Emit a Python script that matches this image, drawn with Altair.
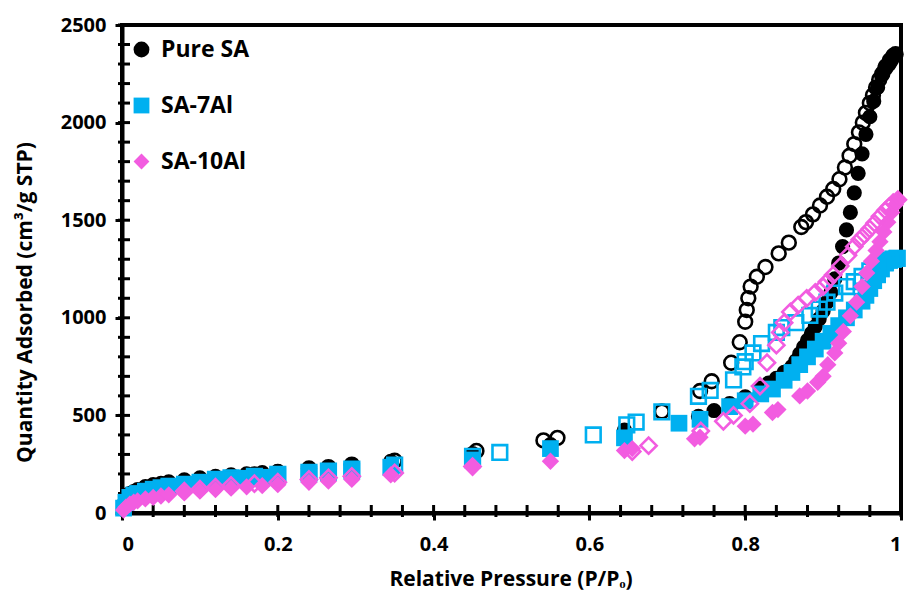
import altair as alt
import pandas as pd

# ---------------- data ----------------
series_names = ["Pure SA", "SA-7Al", "SA-10Al"]
series_colors = ["#000000", "#00B0F0", "#F25CE0"]
series_shapes = ["circle", "square", "diamond"]

# Pure SA – adsorption (filled) / desorption (open)
sa_ads_p = [0.002, 0.005, 0.01, 0.015, 0.02, 0.03, 0.04, 0.05, 0.06, 0.08,
            0.10, 0.12, 0.14, 0.16, 0.18, 0.20, 0.24, 0.265, 0.295, 0.345,
            0.45, 0.55, 0.645, 0.74, 0.76, 0.78, 0.80, 0.82, 0.83, 0.84,
            0.85, 0.86, 0.865, 0.87, 0.875, 0.88, 0.885, 0.89, 0.895, 0.90,
            0.905, 0.91, 0.915, 0.92, 0.925, 0.93, 0.935, 0.94, 0.945, 0.95,
            0.955, 0.96, 0.965, 0.97, 0.975, 0.98, 0.985, 0.99, 0.993]
sa_ads_q = [45, 75, 100, 110, 120, 135, 145, 152, 160, 170,
            180, 188, 195, 200, 207, 212, 225, 232, 245, 265,
            305, 350, 425, 495, 525, 560, 595, 640, 665, 690,
            720, 750, 780, 815, 850, 885, 920, 955, 995, 1035,
            1080, 1130, 1200, 1280, 1365, 1450, 1540, 1640, 1740, 1840,
            1940, 2030, 2110, 2180, 2240, 2290, 2320, 2345, 2350]
sa_des_p = [0.993, 0.99, 0.987, 0.984, 0.98, 0.976, 0.972, 0.968, 0.964, 0.96,
            0.955, 0.951, 0.946, 0.94, 0.934, 0.928, 0.921, 0.913, 0.905, 0.896,
            0.887, 0.878, 0.872, 0.856, 0.843, 0.826, 0.815, 0.807, 0.804, 0.802,
            0.80, 0.793, 0.782, 0.757, 0.742, 0.693, 0.559, 0.541, 0.455, 0.35,
            0.295, 0.265, 0.24, 0.20, 0.17, 0.14, 0.12, 0.10, 0.08]
sa_des_q = [2350, 2340, 2320, 2300, 2280, 2250, 2220, 2180, 2140, 2100,
            2050, 2000, 1950, 1890, 1830, 1770, 1710, 1660, 1620, 1575,
            1530, 1490, 1465, 1385, 1330, 1260, 1210, 1160, 1100, 1040,
            980, 875, 770, 675, 625, 520, 385, 372, 318, 268,
            248, 235, 228, 210, 198, 185, 175, 165, 155]

# SA-7Al
al7_ads_p = [0.002, 0.005, 0.01, 0.015, 0.02, 0.03, 0.04, 0.05, 0.06, 0.08,
             0.10, 0.12, 0.14, 0.16, 0.18, 0.20, 0.24, 0.265, 0.295, 0.345,
             0.45, 0.55, 0.645, 0.715, 0.742, 0.78, 0.80, 0.82, 0.835, 0.85,
             0.86, 0.87, 0.88, 0.89, 0.90, 0.91, 0.92, 0.93, 0.94, 0.95,
             0.955, 0.96, 0.965, 0.97, 0.975, 0.98, 0.985, 0.99, 0.995]
al7_ads_q = [25, 55, 80, 92, 100, 112, 122, 130, 138, 148,
             158, 165, 172, 178, 183, 190, 200, 207, 215, 235,
             272, 330, 385, 460, 480, 545, 575, 610, 635, 680,
             720, 760, 800, 840, 880, 920, 960, 1000, 1040, 1085,
             1115, 1150, 1190, 1220, 1250, 1280, 1295, 1300, 1305]
al7_des_p = [0.995, 0.99, 0.985, 0.98, 0.97, 0.96, 0.95, 0.94, 0.93, 0.915,
             0.905, 0.895, 0.883, 0.865, 0.847, 0.84, 0.821, 0.81, 0.80, 0.797,
             0.785, 0.755, 0.74, 0.693, 0.66, 0.648, 0.605, 0.485, 0.45, 0.35,
             0.295, 0.265, 0.24, 0.20, 0.17, 0.14, 0.12]
al7_des_q = [1305, 1300, 1295, 1285, 1265, 1240, 1212, 1185, 1160, 1127,
             1080, 1045, 1012, 975, 950, 925, 868, 820, 775, 748,
             682, 628, 598, 518, 466, 452, 400, 310, 290, 245,
             225, 215, 208, 198, 188, 180, 172]

# SA-10Al
al10_ads_p = [0.002, 0.005, 0.01, 0.015, 0.02, 0.03, 0.04, 0.05, 0.06, 0.08,
              0.10, 0.12, 0.14, 0.16, 0.18, 0.20, 0.24, 0.265, 0.295, 0.345,
              0.45, 0.55, 0.645, 0.655, 0.735, 0.742, 0.80, 0.81, 0.835, 0.842,
              0.87, 0.88, 0.893, 0.90, 0.906, 0.915, 0.92, 0.926, 0.935, 0.943,
              0.95, 0.956, 0.962, 0.968, 0.973, 0.978, 0.983, 0.988, 0.993, 0.996]
al10_ads_q = [15, 30, 45, 55, 62, 72, 80, 87, 93, 103,
              112, 120, 127, 134, 140, 145, 157, 163, 172, 195,
              235, 265, 320, 330, 380, 388, 445, 455, 515, 530,
              600, 625, 670, 700, 760, 820, 870, 930, 1010, 1080,
              1160, 1230, 1290, 1345, 1390, 1440, 1490, 1540, 1580, 1605]
al10_des_p = [0.996, 0.99, 0.985, 0.98, 0.973, 0.966, 0.96, 0.953, 0.947, 0.94,
              0.932, 0.922, 0.913, 0.905, 0.90, 0.89, 0.879, 0.868, 0.858, 0.85,
              0.845, 0.84, 0.828, 0.819, 0.806, 0.785, 0.772, 0.743, 0.676, 0.655,
              0.45, 0.35, 0.295, 0.265, 0.24, 0.20, 0.17, 0.14, 0.12, 0.10, 0.08]
al10_des_q = [1605, 1590, 1570, 1550, 1520, 1485, 1455, 1425, 1400, 1365,
              1320, 1265, 1220, 1185, 1160, 1130, 1100, 1065, 1030, 975,
              925, 860, 770, 650, 560, 500, 470, 420, 345, 315,
              238, 205, 188, 180, 172, 158, 150, 142, 132, 122, 112]

# axis tick positions
x_major_ticks = [0, 0.2, 0.4, 0.6, 0.8, 1.0]
x_minor_ticks = [0.04, 0.08, 0.12, 0.16, 0.24, 0.28, 0.32, 0.36, 0.44, 0.48,
                 0.52, 0.56, 0.64, 0.68, 0.72, 0.76, 0.84, 0.88, 0.92, 0.96]
y_major_ticks = [0, 500, 1000, 1500, 2000, 2500]
y_minor_ticks = [100, 200, 300, 400, 600, 700, 800, 900, 1100, 1200, 1300, 1400,
                 1600, 1700, 1800, 1900, 2100, 2200, 2300, 2400]

# ---------------- chart ----------------
FONT = "Open Sans"
W, H = 779, 488

xscale = alt.Scale(domain=[0, 1], nice=False, zero=False)
yscale = alt.Scale(domain=[0, 2500], nice=False)
color_scale = alt.Scale(domain=series_names, range=series_colors)
shape_scale = alt.Scale(domain=series_names, range=series_shapes)

legend = alt.Legend(
    orient="none", legendX=8, legendY=13, title=None,
    labelFont=FONT, labelFontWeight="bold", labelFontSize=23, labelColor="black",
    symbolSize=250, symbolStrokeWidth=0, rowPadding=32, labelOffset=8,
)

x_axis = alt.Axis(
    values=x_major_ticks, format="~g",
    labelPadding=14, title="Relative Pressure (P/Pₒ)",
    titleX=W / 2 - 1, titleY=66,
)
y_axis = alt.Axis(
    values=y_major_ticks, format="d",
    labelPadding=9, title="Quantity Adsorbed (cm³/g STP)",
    titleX=-97, titleY=277, titleAngle=270,
)


def frame(p, q, name):
    return pd.DataFrame({"p": p, "q": q, "series": name})


def ads_layer(p, q, name, size):
    return alt.Chart(frame(p, q, name)).mark_point(
        filled=True, opacity=1, size=size, strokeWidth=0, clip=False
    ).encode(
        x=alt.X("p:Q", scale=xscale, axis=x_axis),
        y=alt.Y("q:Q", scale=yscale, axis=y_axis),
        color=alt.Color("series:N", scale=color_scale, legend=legend),
        shape=alt.Shape("series:N", scale=shape_scale, legend=legend),
    )


def des_layer(p, q, name, shape, color, size):
    return alt.Chart(frame(p, q, name)).mark_point(
        filled=False, opacity=1, size=size, strokeWidth=2.6, shape=shape,
        color=color, clip=False
    ).encode(
        x=alt.X("p:Q", scale=xscale, axis=x_axis),
        y=alt.Y("q:Q", scale=yscale, axis=y_axis),
    )


xt_df = pd.DataFrame({"t": x_major_ticks + x_minor_ticks})
yt_df = pd.DataFrame({"t": y_major_ticks + y_minor_ticks})

# inward-pointing ticks (the library's axis ticks only point outwards)
x_inner_ticks = alt.Chart(xt_df).mark_tick(
    color="black", orient="vertical", size=12, thickness=3, opacity=1
).encode(
    x=alt.X("t:Q", scale=xscale, axis=x_axis),
    y=alt.value(H - 2),
)
y_inner_ticks = alt.Chart(yt_df).mark_tick(
    color="black", orient="horizontal", size=12, thickness=3, opacity=1
).encode(
    y=alt.Y("t:Q", scale=yscale, axis=y_axis),
    x=alt.value(2),
)

chart = alt.layer(
    x_inner_ticks,
    y_inner_ticks,
    ads_layer(sa_ads_p, sa_ads_q, "Pure SA", 230),
    des_layer(sa_des_p, sa_des_q, "Pure SA", "circle", "#000000", 190),
    ads_layer(al7_ads_p, al7_ads_q, "SA-7Al", 280),
    des_layer(al7_des_p, al7_des_q, "SA-7Al", "square", "#00B0F0", 215),
    ads_layer(al10_ads_p, al10_ads_q, "SA-10Al", 300),
    des_layer(al10_des_p, al10_des_q, "SA-10Al", "diamond", "#F25CE0", 260),
).properties(
    width=W, height=H,
    autosize=alt.AutoSizeParams(type="none"),
    padding={"left": 122, "top": 25, "right": 8, "bottom": 86},
    background="white",
).configure_view(
    stroke="black", strokeWidth=4
).configure_axis(
    grid=False,
    domainColor="black", domainWidth=4,
    tickColor="black", tickWidth=3, tickSize=7,
    labelFont=FONT, labelFontWeight="bold", labelFontSize=20, labelColor="black",
    titleFont=FONT, titleFontWeight="bold", titleFontSize=21, titleColor="black",
    titleAlign="center", titleBaseline="middle",
)

chart.save("out.html", embed_options={"renderer": "svg", "actions": False})
